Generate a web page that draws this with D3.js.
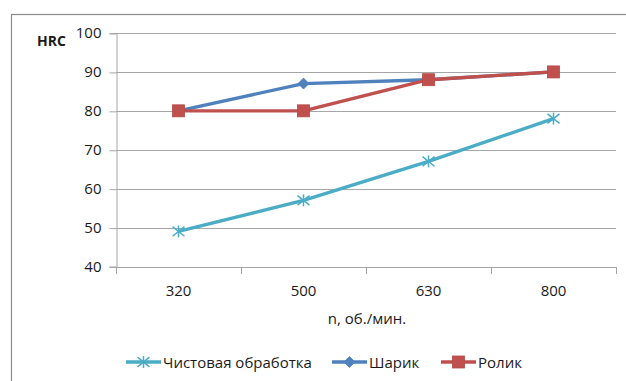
<!DOCTYPE html>
<html>
<head>
<meta charset="utf-8">
<script src="https://cdn.jsdelivr.net/npm/d3@7"></script>
<style>
  html, body { margin: 0; padding: 0; background: #fff; }
  svg { display: block; }
  text { font-family: "Open Sans", "Noto Sans", sans-serif; fill: #1a1a1a; }
</style>
</head>
<body>
<svg id="chart" width="626" height="381"></svg>
<script>
// Hardness (HRC) versus spindle speed for three finishing methods
const speeds = ["320", "500", "630", "800"];
const finishing = [49, 57, 67, 78];   // Чистовая обработка
const ball = [80, 87, 88, 90];        // Шарик
const roller = [80, 80, 88, 90];      // Ролик
const yTicks = [40, 50, 60, 70, 80, 90, 100];
const seriesNames = ["Чистовая обработка", "Шарик", "Ролик"];

const series = [
  { name: seriesNames[0], values: finishing, color: "#4BACC6", marker: "star" },
  { name: seriesNames[1], values: ball, color: "#4F81BD", marker: "diamond" },
  { name: seriesNames[2], values: roller, color: "#C0504D", marker: "square" }
];

const svg = d3.select("#chart");
const plot = { left: 116, right: 616, top: 33, bottom: 266.5 };

// chart frame
svg.append("rect")
  .attr("x", 11.5).attr("y", 14.5)
  .attr("width", 640).attr("height", 400)
  .attr("fill", "none").attr("stroke", "#8c8c8c").attr("stroke-width", 1.2);

const x = d3.scaleBand().domain(speeds).range([plot.left, plot.right]);
const y = d3.scaleLinear().domain([40, 100]).range([plot.bottom, plot.top]);

// horizontal gridlines
svg.append("g").selectAll("line").data(yTicks.filter(t => t > 40)).join("line")
  .attr("x1", plot.left).attr("x2", plot.right)
  .attr("y1", d => Math.round(y(d)) + 0.5).attr("y2", d => Math.round(y(d)) + 0.5)
  .attr("stroke", "#a6a6a6").attr("stroke-width", 1);

// y axis
const yAxis = svg.append("g")
  .attr("transform", `translate(${plot.left + 0.5},0)`)
  .call(d3.axisLeft(y).tickValues(yTicks).tickSize(7).tickPadding(8));
yAxis.select(".domain").attr("stroke", "#a6a6a6");
yAxis.selectAll(".tick line").attr("stroke", "#a6a6a6")
  .attr("transform", "translate(0,0.5)");
yAxis.selectAll(".tick text").attr("font-size", 15).attr("fill", "#1a1a1a")
  .attr("font-family", "Open Sans, Noto Sans, sans-serif");

// x axis with ticks on band boundaries
const xAxisG = svg.append("g");
xAxisG.append("line")
  .attr("x1", plot.left).attr("x2", plot.right)
  .attr("y1", Math.round(plot.bottom) + 0.5).attr("y2", Math.round(plot.bottom) + 0.5)
  .attr("stroke", "#a6a6a6");
const bounds = speeds.map(s => x(s)).concat([plot.right]);
xAxisG.selectAll("line.tk").data(bounds).join("line").attr("class", "tk")
  .attr("x1", d => Math.round(d) + 0.5).attr("x2", d => Math.round(d) + 0.5)
  .attr("y1", Math.round(plot.bottom)).attr("y2", Math.round(plot.bottom) + 7)
  .attr("stroke", "#a6a6a6");
xAxisG.selectAll("text").data(speeds).join("text")
  .attr("x", d => x(d) + x.bandwidth() / 2).attr("y", 296)
  .attr("text-anchor", "middle").attr("font-size", 15)
  .text(d => d);

// axis titles
svg.append("text").attr("x", 37).attr("y", 46)
  .attr("font-size", 14).attr("font-weight", "bold").text("HRC");
svg.append("text").attr("x", 367).attr("y", 324)
  .attr("text-anchor", "middle").attr("font-size", 15).text("n, об./мин.");

// marker drawing
function drawMarker(g, type, color, cx, cy) {
  if (type === "star") {
    const r = 6;
    const m = g.append("g").attr("stroke", color).attr("stroke-width", 1.5);
    m.append("line").attr("x1", cx).attr("x2", cx).attr("y1", cy - r).attr("y2", cy + r);
    m.append("line").attr("x1", cx - r).attr("x2", cx + r).attr("y1", cy - r * 0.8).attr("y2", cy + r * 0.8);
    m.append("line").attr("x1", cx - r).attr("x2", cx + r).attr("y1", cy + r * 0.8).attr("y2", cy - r * 0.8);
  } else if (type === "diamond") {
    const r = 5.5;
    g.append("path")
      .attr("d", `M${cx},${cy - r}L${cx + r},${cy}L${cx},${cy + r}L${cx - r},${cy}Z`)
      .attr("fill", color).attr("stroke", color).attr("stroke-width", 0.8);
  } else {
    const s = 12;
    g.append("rect").attr("x", cx - s / 2).attr("y", cy - s / 2)
      .attr("width", s).attr("height", s)
      .attr("fill", color).attr("stroke", d3.color(color).darker(0.2)).attr("stroke-width", 0.8);
  }
}

const line = d3.line()
  .x((d, i) => x(speeds[i]) + x.bandwidth() / 2)
  .y(d => y(d));

series.forEach(s => {
  const g = svg.append("g");
  g.append("path").datum(s.values).attr("d", line)
    .attr("fill", "none").attr("stroke", s.color).attr("stroke-width", 3.4)
    .attr("stroke-linejoin", "round");
  s.values.forEach((v, i) => drawMarker(g, s.marker, s.color, x(speeds[i]) + x.bandwidth() / 2, y(v)));
});

// legend
const legendItems = [
  { lx: 126, tx: 163 },
  { lx: 332, tx: 369 },
  { lx: 441, tx: 478 }
];
series.forEach((s, i) => {
  const g = svg.append("g");
  const ly = 362;
  g.append("line").attr("x1", legendItems[i].lx).attr("x2", legendItems[i].lx + 35)
    .attr("y1", ly).attr("y2", ly).attr("stroke", s.color).attr("stroke-width", 3.4);
  drawMarker(g, s.marker, s.color, legendItems[i].lx + 17.5, ly);
  g.append("text").attr("x", legendItems[i].tx).attr("y", ly + 5.5)
    .attr("font-size", 15).text(s.name);
});
</script>
</body>
</html>
